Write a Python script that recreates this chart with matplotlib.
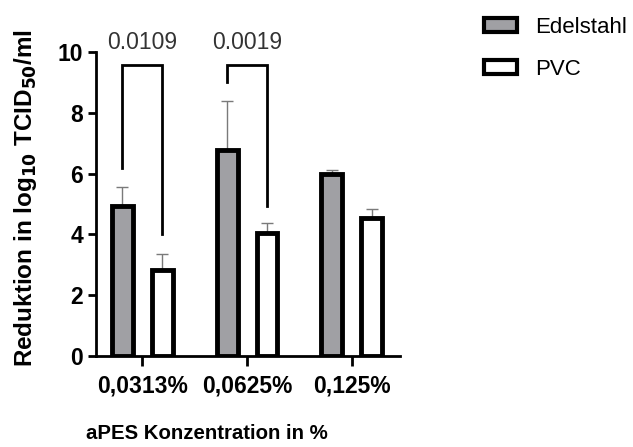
import numpy as np
import matplotlib.pyplot as plt
from matplotlib.patches import Patch

plt.rcParams['font.family'] = ['Liberation Sans', 'DejaVu Sans']

# Daten
konzentrationen = ['0,0313%', '0,0625%', '0,125%']
edelstahl = [4.95, 6.78, 6.0]
edelstahl_err = [0.6, 1.6, 0.11]
pvc = [2.82, 4.06, 4.54]
pvc_err = [0.55, 0.3, 0.28]
p_werte = ['0.0109', '0.0019']
# Klammern: (linkes Bein unten, rechtes Bein unten)
klammer_unten = [(6.17, 4.0), (9.0, 4.95)]
klammer_oben = 9.57

x = np.arange(len(konzentrationen))
breite = 0.2
versatz = 0.19

fig = plt.figure(figsize=(6.33, 4.47), dpi=100)
ax = fig.add_axes([0.152, 0.2036, 0.48, 0.68])

ax.bar(x - versatz, edelstahl, breite, color='#a0a0a4', edgecolor='black',
       linewidth=3.5, zorder=2)
ax.bar(x + versatz, pvc, breite, color='white', edgecolor='black',
       linewidth=3.5, zorder=2)
ax.errorbar(x - versatz, edelstahl, yerr=[np.zeros(3), edelstahl_err], fmt='none',
            ecolor='#7a7a7a', elinewidth=1, capsize=4, capthick=1, zorder=1)
ax.errorbar(x + versatz, pvc, yerr=[np.zeros(3), pvc_err], fmt='none',
            ecolor='#7a7a7a', elinewidth=1, capsize=4, capthick=1, zorder=1)

for i, (p, (l, r)) in enumerate(zip(p_werte, klammer_unten)):
    xl, xr = i - versatz, i + versatz
    ax.plot([xl, xl, xr, xr], [l, klammer_oben, klammer_oben, r], color='black',
            lw=2, clip_on=False, solid_joinstyle='miter')
    ax.text(i, 10.3, p, ha='center', va='center', fontsize=16.5, color='#333333')

ax.set_xlim(-0.44, 2.46)
ax.set_ylim(0, 10)
ax.set_yticks([0, 2, 4, 6, 8, 10])
ax.set_xticks(x)
ax.set_xticklabels(konzentrationen, fontweight='bold', fontsize=16.5)
for lbl in ax.get_yticklabels():
    lbl.set_fontweight('bold')
    lbl.set_fontsize(16.5)

for s in ['top', 'right']:
    ax.spines[s].set_visible(False)
for s in ['left', 'bottom']:
    ax.spines[s].set_linewidth(2)
ax.tick_params(axis='both', width=2, length=6, color='black')
ax.tick_params(axis='x', length=7, pad=6)

fig.text(0.04, 0.556, 'Reduktion in log$_{\\mathbf{10}}$ TCID$_{\\mathbf{50}}$/ml',
         rotation=90, ha='center', va='center', fontweight='bold', fontsize=17.5)
fig.text(0.327, 0.03, 'aPES Konzentration in %', ha='center', va='center',
         fontweight='bold', fontsize=14.7)

handles = [Patch(facecolor='#a0a0a4', edgecolor='black', linewidth=3),
           Patch(facecolor='white', edgecolor='black', linewidth=3)]
fig.legend(handles, ['Edelstahl', 'PVC'], loc='upper left',
           bbox_to_anchor=(0.74, 0.997), frameon=False, fontsize=16,
           handlelength=1.5, handleheight=0.55, handletextpad=0.8,
           labelspacing=0.95, borderaxespad=0.3)

fig.savefig('out.png', dpi=100)
